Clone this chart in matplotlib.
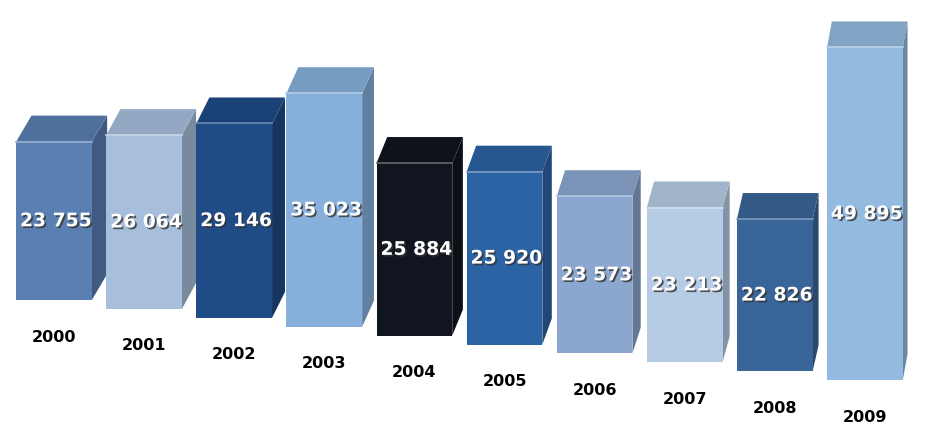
import matplotlib.pyplot as plt
import matplotlib.patheffects as pe
from matplotlib.patches import Polygon
import matplotlib.colors as mcolors

anos = ['2000', '2001', '2002', '2003', '2004', '2005', '2006', '2007', '2008', '2009']
valores = [23755, 26064, 29146, 35023, 25884, 25920, 23573, 23213, 22826, 49895]
rotulos = ['23 755', '26 064', '29 146', '35 023', '25 884', '25 920', '23 573', '23 213', '22 826', '49 895']

cores = ['#5a7fb2', '#a7bfdc', '#1f4b86', '#87b1dc', '#10151f',
         '#2c63a4', '#8ba7cf', '#b6cce5', '#3a6599', '#93badf']

UNID_PX = 150.0          # unidades de valor por pixel
DESCIDA = 8.9 * UNID_PX  # queda da base a cada barra
LARGURA = 0.84
PROF_Y = 26 * UNID_PX


def clarear(cor, f):
    r, g, b = mcolors.to_rgb(cor)
    return (r + (1 - r) * f, g + (1 - g) * f, b + (1 - b) * f)


def escurecer(cor, f):
    r, g, b = mcolors.to_rgb(cor)
    return (r * (1 - f), g * (1 - f), b * (1 - f))


fig = plt.figure(figsize=(9.29, 4.24), dpi=100)
ax = fig.add_axes([0, 0, 1, 1])
ax.set_xlim(-54 / 90.1, (929 - 54) / 90.1)
ax.set_ylim(-(424 - 300) * UNID_PX, 300 * UNID_PX)
ax.axis('off')

bases = [-DESCIDA * i for i in range(len(valores))]

for i, (valor, base, cor) in enumerate(zip(valores, bases, cores)):
    x0 = i - LARGURA / 2
    x1 = i + LARGURA / 2
    topo = base + valor
    dx = 0.17 - 0.013 * i

    # face lateral
    lado = Polygon([(x1, base), (x1, topo), (x1 + dx, topo + PROF_Y), (x1 + dx, base + PROF_Y)],
                   closed=True, facecolor=escurecer(cor, 0.28), edgecolor='none', zorder=2 * i + 1)
    ax.add_patch(lado)
    # face de cima
    cima = Polygon([(x0, topo), (x1, topo), (x1 + dx, topo + PROF_Y), (x0 + dx, topo + PROF_Y)],
                   closed=True, facecolor=escurecer(cor, 0.12), edgecolor='none', zorder=2 * i + 1)
    ax.add_patch(cima)
    # face da frente
    ax.bar(i, valor, width=LARGURA, bottom=base, color=cor, zorder=2 * i + 2)
    ax.plot([x0, x1], [topo, topo], color=clarear(cor, 0.35), lw=1.2, zorder=2 * i + 2)

    ax.text(i + 0.02, base + valor * 0.5, rotulos[i], ha='center', va='center',
            fontsize=13.5, fontweight='bold', color='white', zorder=40,
            path_effects=[pe.withSimplePatchShadow(offset=(1.2, -1.2), shadow_rgbFace='#333333', alpha=0.8)])
    ax.text(i, base - 37 * UNID_PX, anos[i], ha='center', va='center',
            fontsize=11.5, fontweight='bold', color='black', zorder=40)

fig.savefig('out.png', dpi=100)
